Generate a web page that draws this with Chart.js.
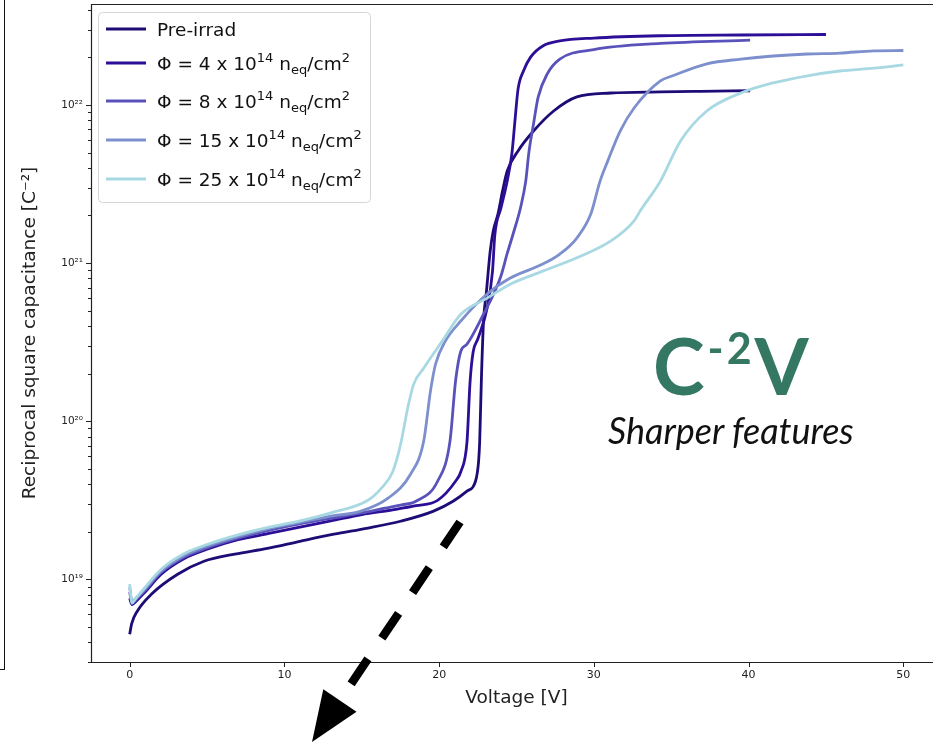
<!DOCTYPE html>
<html>
<head>
<meta charset="utf-8">
<script src="https://cdn.jsdelivr.net/npm/chart.js@4/dist/chart.umd.min.js"></script>
<style>
  html, body { margin:0; padding:0; background:#fff; width:933px; height:744px; overflow:hidden; }
  #wrap { position:absolute; left:0; top:0; width:960px; height:744px; }
  #frame { position:absolute; left:-3px; top:-3px; width:6px; height:671px; border:1.5px solid #111; }
  .cv { position:absolute; left:653px; top:298px; font-family:Lato, sans-serif; font-weight:700; font-size:78px; line-height:100px; color:#347864; white-space:nowrap; }
  .cv .sup { font-size:43px; vertical-align:31px; letter-spacing:3px; margin-left:3px; }
  .sf { position:absolute; left:608px; top:410px; font-family:Lato, sans-serif; font-style:italic; font-size:36px; line-height:40px; color:#111; white-space:nowrap; }
  svg { position:absolute; left:0; top:0; }
</style>
</head>
<body>
<div id="frame"></div>
<div id="wrap"><canvas id="c" width="960" height="744"></canvas></div>
<div class="cv">C<span class="sup">-2</span>V</div>
<div class="sf">Sharper features</div>
<svg width="933" height="744">
  <line x1="460" y1="522" x2="339.9" y2="700.5" stroke="#000" stroke-width="8.5" stroke-dasharray="30 25"/>
  <polygon points="312,742 356.5,711.7 323.3,689.3" fill="#000"/>
</svg>
<script>
// ---------------- data ----------------
const seriesNames = ['Pre-irrad', 'Φ = 4 x 10¹⁴ n_eq/cm²', 'Φ = 8 x 10¹⁴ n_eq/cm²', 'Φ = 15 x 10¹⁴ n_eq/cm²', 'Φ = 25 x 10¹⁴ n_eq/cm²'];
const fluences = [null, 4, 8, 15, 25];

const voltPre = [0, 0.13, 0.5, 1.4, 3.1, 4.8, 6.8, 8.9, 11, 13.2, 15.4, 17.5, 19.6, 20.9, 21.8, 22.35, 22.55, 22.62, 22.74, 22.87, 23.06, 23.3, 23.5, 23.8, 24.1, 24.4, 25.1, 26.1, 27.4, 28.9, 31.1, 34.3, 36.9, 40.1];
const capPre  = [4.49e18, 5.25e18, 6.31e18, 8.04e18, 1.076e19, 1.30e19, 1.445e19, 1.57e19, 1.74e19, 1.93e19, 2.11e19, 2.33e19, 2.69e19, 3.12e19, 3.61e19, 4.17e19, 5.58e19, 7.41e19, 1.98e20, 4.30e20, 6.65e20, 1.19e21, 1.60e21, 2.04e21, 2.86e21, 3.82e21, 5.12e21, 6.84e21, 9.16e21, 1.125e22, 1.19e22, 1.21e22, 1.22e22, 1.23e22];

const volt4 = [0, 0.15, 0.4, 1, 2, 3.5, 5, 7, 9, 11, 13, 15, 17, 18.5, 19.9, 21.06, 21.4, 21.8, 22.0, 22.2, 22.5, 23.1, 23.45, 23.6, 24.0, 24.4, 24.7, 24.9, 25.1, 25.45, 25.9, 26.7, 27.8, 30, 34.3, 39.5, 45];
const cap4  = [7.59e18, 6.92e18, 7.24e18, 8.32e18, 1.07e19, 1.35e19, 1.55e19, 1.78e19, 1.95e19, 2.14e19, 2.34e19, 2.57e19, 2.75e19, 2.92e19, 3.16e19, 4.17e19, 4.79e19, 7.41e19, 1.78e20, 2.75e20, 3.31e20, 5.19e20, 8.91e20, 1.51e21, 2.24e21, 3.31e21, 4.90e21, 7.94e21, 1.26e22, 1.64e22, 2.00e22, 2.36e22, 2.54e22, 2.65e22, 2.74e22, 2.77e22, 2.79e22];

const volt8 = [0, 0.15, 0.4, 1, 2, 3.5, 5, 7, 9, 11, 13, 15, 16.5, 17.5, 18.5, 19.9, 20.7, 21.06, 21.4, 21.8, 22.87, 23.5, 24.0, 24.4, 24.8, 25.26, 25.6, 25.8, 26.1, 26.4, 27.0, 27.8, 30.0, 34.3, 40.1];
const cap8  = [8.32e18, 7.08e18, 7.41e18, 8.51e18, 1.10e19, 1.38e19, 1.58e19, 1.82e19, 2.04e19, 2.24e19, 2.43e19, 2.63e19, 2.82e19, 2.95e19, 3.12e19, 4.17e19, 7.46e19, 1.79e20, 2.77e20, 3.07e20, 4.75e20, 6.31e20, 8.32e20, 1.15e21, 1.55e21, 2.24e21, 3.31e21, 5.01e21, 7.59e21, 1.12e22, 1.58e22, 1.95e22, 2.24e22, 2.45e22, 2.57e22];

const volt15 = [0, 0.15, 0.4, 1, 2, 3.5, 5, 7, 9, 11, 13, 14.9, 16.7, 18.15, 19.0, 19.44, 19.77, 20.4, 21.4, 23.1, 24.6, 26.7, 27.8, 28.9, 29.8, 30.4, 30.9, 31.7, 32.6, 34.3, 35.1, 37.3, 39.5, 41.6, 43.8, 45.9, 48.1, 50];
const cap15  = [8.91e18, 7.24e18, 7.59e18, 8.71e18, 1.12e19, 1.41e19, 1.62e19, 1.86e19, 2.09e19, 2.29e19, 2.51e19, 2.69e19, 3.26e19, 4.62e19, 7.46e19, 1.55e20, 2.30e20, 3.21e20, 4.30e20, 6.37e20, 8.04e20, 9.86e20, 1.14e21, 1.44e21, 2.04e21, 3.30e21, 4.43e21, 6.84e21, 9.57e21, 1.42e22, 1.53e22, 1.82e22, 1.95e22, 2.04e22, 2.10e22, 2.13e22, 2.20e22, 2.21e22];

const volt25 = [0, 0.15, 0.4, 1, 2, 3.5, 5, 7, 9, 11, 13, 15.4, 16.3, 17.0, 17.5, 17.96, 18.35, 19.0, 20.2, 21.4, 23.1, 24.6, 26.7, 28.9, 31.1, 32.6, 33.0, 34.3, 35.6, 37.3, 39.5, 41.6, 43.8, 45.9, 48.1, 50];
const cap25  = [9.33e18, 7.08e18, 7.59e18, 8.91e18, 1.15e19, 1.45e19, 1.66e19, 1.91e19, 2.14e19, 2.34e19, 2.63e19, 3.16e19, 3.80e19, 4.79e19, 7.08e19, 1.20e20, 1.71e20, 2.16e20, 3.21e20, 4.75e20, 6.00e20, 7.36e20, 8.89e20, 1.08e21, 1.38e21, 1.85e21, 2.14e21, 3.30e21, 5.92e21, 9.16e21, 1.19e22, 1.38e22, 1.53e22, 1.64e22, 1.71e22, 1.79e22];

const xTickValues = [0, 10, 20, 30, 40, 50];
const yDecades = [18, 19, 20, 21, 22];
const xAxisTitle = 'Voltage [V]';
const yAxisTitle = 'Reciprocal square capacitance [C⁻²]';

// ---------------- styles ----------------
const seriesColors = ['#1f0b76', '#2c0f96', '#5a52bb', '#7d8fcd', '#a8d9e3'];
const seriesVolts = [voltPre, volt4, volt8, volt15, volt25];
const seriesCaps = [capPre, cap4, cap8, cap15, cap25];
const SUP = {'0':'⁰','1':'¹','2':'²','3':'³','4':'⁴','5':'⁵','6':'⁶','7':'⁷','8':'⁸','9':'⁹','-':'⁻'};
const toSup = s => String(s).split('').map(c => SUP[c] || c).join('');

const datasets = seriesNames.map((name, i) => ({
  label: name,
  data: seriesVolts[i].map((v, j) => ({ x: v, y: seriesCaps[i][j] })),
  borderColor: seriesColors[i],
  backgroundColor: seriesColors[i],
  borderWidth: 2.8,
  pointRadius: 0,
  fill: false,
  cubicInterpolationMode: 'monotone',
  order: seriesNames.length - 1 - i
}));

function line(ctx, x1, y1, x2, y2) { ctx.beginPath(); ctx.moveTo(x1, y1); ctx.lineTo(x2, y2); ctx.stroke(); }
function noPad(s) { s.paddingTop = 0; s.paddingBottom = 0; s.paddingLeft = 0; s.paddingRight = 0; }

const axesPlugin = {
  id: 'mplAxes',
  afterDraw(chart) {
    const { ctx, chartArea: a, scales: { x, y } } = chart;
    ctx.save();
    ctx.strokeStyle = '#222';
    ctx.lineWidth = 1.2;
    const L = Math.round(a.left) + 0.5, T = Math.round(a.top) + 0.5, B = Math.round(a.bottom) + 0.5, R = a.right;
    ctx.beginPath();
    ctx.moveTo(R, T); ctx.lineTo(L, T); ctx.lineTo(L, B); ctx.lineTo(R, B);
    ctx.stroke();
    ctx.lineWidth = 1;
    x.ticks.forEach(t => {
      const px = Math.round(x.getPixelForValue(t.value)) + 0.5;
      line(ctx, px, a.bottom, px, a.bottom + 5);
    });
    y.ticks.forEach(t => {
      const py = Math.round(y.getPixelForValue(t.value)) + 0.5;
      line(ctx, a.left, py, a.left - (t.major ? 5 : 3), py);
    });
    ctx.restore();
  }
};

function drawRich(ctx, x, y, parts, size) {
  const small = Math.round(size * 0.72);
  parts.forEach(([txt, mode]) => {
    ctx.font = (mode ? small : size) + 'px "DejaVu Sans"';
    const dy = mode === 1 ? -size * 0.42 : mode === 2 ? size * 0.22 : 0;
    ctx.fillText(txt, x, y + dy);
    x += ctx.measureText(txt).width;
  });
}

const legendPlugin = {
  id: 'richLegend',
  afterDraw(chart) {
    const ctx = chart.ctx;
    ctx.save();
    const bx = 98.5, by = 12.5, bw = 272, bh = 190, r = 4;
    ctx.beginPath();
    ctx.moveTo(bx + r, by);
    ctx.lineTo(bx + bw - r, by); ctx.quadraticCurveTo(bx + bw, by, bx + bw, by + r);
    ctx.lineTo(bx + bw, by + bh - r); ctx.quadraticCurveTo(bx + bw, by + bh, bx + bw - r, by + bh);
    ctx.lineTo(bx + r, by + bh); ctx.quadraticCurveTo(bx, by + bh, bx, by + bh - r);
    ctx.lineTo(bx, by + r); ctx.quadraticCurveTo(bx, by, bx + r, by);
    ctx.closePath();
    ctx.fillStyle = 'rgba(255,255,255,0.85)';
    ctx.fill();
    ctx.strokeStyle = '#d6d6d6';
    ctx.lineWidth = 1;
    ctx.stroke();
    const rows = [29, 63, 101, 140, 179];
    chart.data.datasets.forEach((ds, i) => {
      const yy = rows[i];
      ctx.strokeStyle = ds.borderColor;
      ctx.lineWidth = 3;
      line(ctx, 106, yy, 146, yy);
      ctx.fillStyle = '#111';
      ctx.textBaseline = 'alphabetic';
      const parts = fluences[i] == null ? [[seriesNames[i], 0]]
        : [['Φ = ' + fluences[i] + ' x 10', 0], ['14', 1], [' n', 0], ['eq', 2], ['/cm', 0], ['2', 1]];
      drawRich(ctx, 157, yy + 7, parts, 18.5);
    });
    ctx.restore();
  }
};

new Chart(document.getElementById('c'), {
  type: 'line',
  data: { datasets },
  options: {
    responsive: false,
    devicePixelRatio: 1,
    animation: false,
    events: [],
    layout: { padding: { top: 4, right: 18, left: 0, bottom: 0 } },
    plugins: { legend: { display: false }, tooltip: { enabled: false } },
    scales: {
      x: {
        type: 'linear',
        min: -2.5, max: 52.5,
        afterFit: s => { s.height = 82; noPad(s); },
        afterBuildTicks: s => { s.ticks = xTickValues.map(v => ({ value: v })); },
        grid: { display: false, drawTicks: false },
        border: { display: false },
        ticks: { autoSkip: false, maxRotation: 0, padding: 7, color: '#222', font: { family: 'DejaVu Sans', size: 11 } },
        title: { display: true, text: xAxisTitle, color: '#222', font: { family: 'DejaVu Sans', size: 18.5 }, padding: { top: 0, bottom: 35 } }
      },
      y: {
        type: 'logarithmic',
        min: 3.0e18, max: 4.35e22,
        afterFit: s => { s.width = 91; noPad(s); },
        afterBuildTicks: s => {
          const t = [];
          yDecades.forEach(e => { for (let m = 1; m <= 9; m++) { const v = m * Math.pow(10, e); if (v >= s.min && v <= s.max) t.push({ value: v, major: m === 1 }); } });
          s.ticks = t;
        },
        grid: { display: false, drawTicks: false },
        border: { display: false },
        ticks: {
          autoSkip: false, padding: 8, color: '#222', font: { family: 'DejaVu Sans', size: 10.5 },
          callback: (v, i, ticks) => ticks[i].major ? '10' + toSup(Math.round(Math.log10(v))) : ''
        },
        title: { display: true, text: yAxisTitle, color: '#222', font: { family: 'DejaVu Sans', size: 18.5 }, padding: { top: 19, bottom: 0 } }
      }
    }
  },
  plugins: [axesPlugin, legendPlugin]
});
</script>
</body>
</html>
